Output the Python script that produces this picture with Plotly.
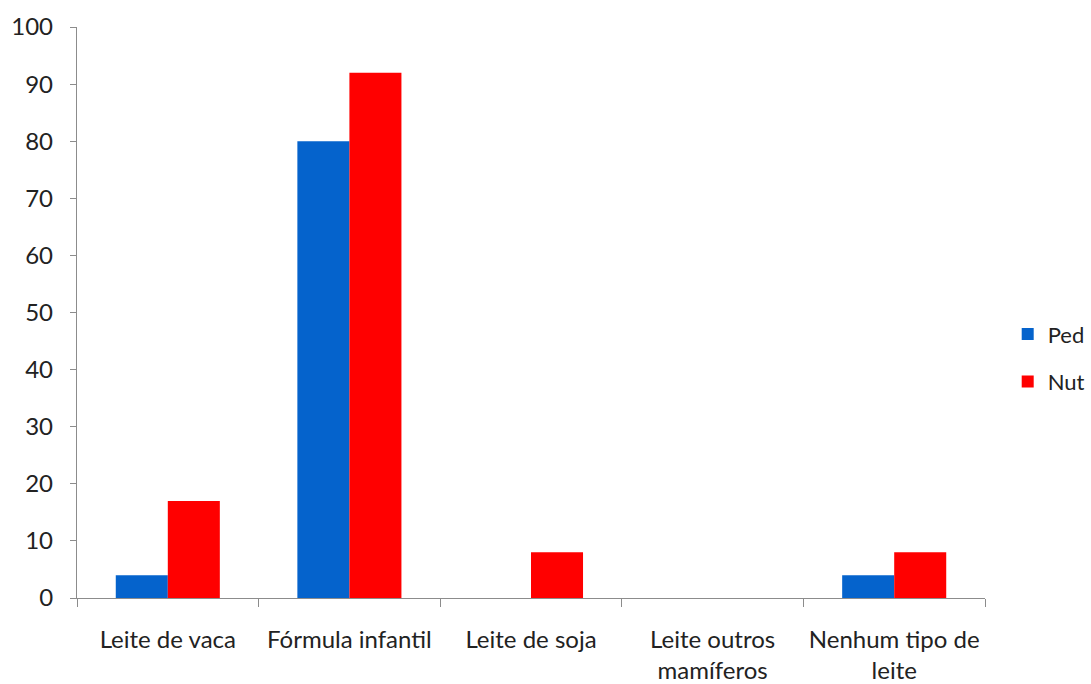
import plotly.graph_objects as go

categories = [
    "Leite de vaca",
    "Fórmula infantil",
    "Leite de soja",
    "Leite outros<br>mamíferos",
    "Nenhum tipo de<br>leite",
]
ped_values = [4, 80, 0, 0, 4]
nut_values = [17, 92, 8, 0, 8]
y_ticks = [0, 10, 20, 30, 40, 50, 60, 70, 80, 90, 100]

FONT = "Lato, 'Open Sans', sans-serif"
AXIS_GRAY = "#8c8c8c"
TEXT = "#222222"

fig = go.Figure()
fig.add_trace(go.Bar(name="Ped", x=categories, y=ped_values,
                     marker=dict(color="#0563CC", line=dict(width=0)),
                     legendgroup="ped"))
fig.add_trace(go.Bar(name="Nut", x=categories, y=nut_values,
                     marker=dict(color="#FF0000", line=dict(width=0)),
                     legendgroup="nut"))

fig.update_layout(
    width=1091, height=684,
    margin=dict(l=77, r=106, t=27, b=86, autoexpand=False),
    paper_bgcolor="white", plot_bgcolor="white",
    barmode="group", bargap=0.427, bargroupgap=0,
    font=dict(family=FONT, size=24, color=TEXT),
    legend=dict(x=1.025, y=0.42, xanchor="left", yanchor="middle",
                font=dict(size=22), tracegroupgap=16,
                itemwidth=30, bgcolor="rgba(0,0,0,0)"),
    showlegend=True,
)

fig.update_xaxes(
    type="category", range=[-0.5, 4.5],
    showline=True, linecolor=AXIS_GRAY, linewidth=1.3,
    ticks="outside", tickson="boundaries", ticklen=8, tickcolor=AXIS_GRAY,
    tickwidth=1.3, showgrid=False, ticklabelstandoff=20,
    tickfont=dict(size=24, family=FONT, color=TEXT),
)
fig.update_yaxes(
    range=[0, 100], tickvals=y_ticks, ticktext=[str(v) for v in y_ticks],
    showline=True, linecolor=AXIS_GRAY, linewidth=1.3,
    ticks="outside", ticklen=6, tickcolor=AXIS_GRAY, tickwidth=1.3,
    showgrid=False, zeroline=False, ticklabelstandoff=12,
    tickfont=dict(size=24, family=FONT, color=TEXT),
)

fig.write_html("out.html")
